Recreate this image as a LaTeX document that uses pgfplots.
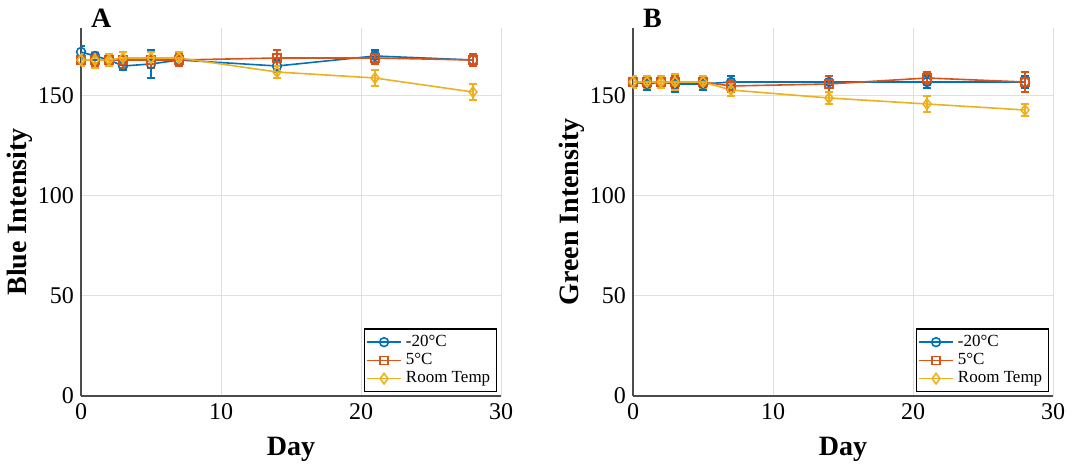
\documentclass[border=0pt]{standalone}
\usepackage{pgfplots}
\pgfplotsset{compat=1.18}
\usepackage{fontspec}
\setmainfont{Liberation Serif}
\definecolor{mb}{HTML}{0072BD}
\definecolor{mr}{HTML}{D95319}
\definecolor{my}{HTML}{EDB120}
\pgfplotsset{
 myax/.style={width=210pt,height=184pt,scale only axis,
  xmin=0,xmax=30,ymin=0,ymax=184,xtick={0,10,20,30},ytick={0,50,100,150},
  axis x line*=bottom, axis y line*=left, axis line style={black!70,line width=0.8pt},
  tick style={draw=none},
  grid=major, major grid style={gray!25,line width=0.5pt},
  ticklabel style={font=\fontsize{12}{12}\selectfont},
  /pgf/number format/assume math mode=true,
  xlabel={\textbf{Day}}, xlabel style={font=\fontsize{14}{14}\selectfont,yshift=-2pt},
  ylabel style={font=\fontsize{14}{14}\selectfont,yshift=-4pt},
  legend pos=south east,
  legend style={font=\fontsize{8.5}{9}\selectfont,draw=black,line width=0.6pt,inner sep=1pt,row sep=-2pt,at={(0.99,0.01)}},
  legend cell align=left,
 },
 eb/.style={error bars/.cd,y dir=both,y explicit,error bar style={line width=0.7pt},error mark options={rotate=90,mark size=2pt,line width=0.7pt}},
}
\begin{document}
\begin{tikzpicture}[x=1pt,y=1pt]
\useasboundingbox (0,0) rectangle (540,235);
\begin{axis}[myax,at={(40.5pt,37pt)},anchor=origin,ylabel={\textbf{Blue Intensity}}]
\addplot+[mb,line width=0.8pt,mark=o,mark size=2.2pt,mark options={solid,fill=none},eb] table[x=x,y=y,y error=e]{
x y e
0 172 3
1 170 2
2 168 2
3 165 2
5 166 7
7 168 3
14 165 3
21 170 3
28 168 3
};
\addlegendentry{-20°C}
\addplot+[mr,line width=0.8pt,mark=square,mark size=2pt,mark options={solid,fill=none},eb] table[x=x,y=y,y error=e]{
x y e
0 168 3
1 168 3
2 168 3
3 168 4
5 168 4
7 168 3
14 169 4
21 169 3
28 168 3
};
\addlegendentry{5°C}
\addplot+[my,line width=0.8pt,mark=diamond,mark size=2.6pt,mark options={solid,fill=none},eb] table[x=x,y=y,y error=e]{
x y e
0 168 3
1 168 4
2 168 3
3 169 3
5 169 3
7 169 3
14 162 3
21 159 4
28 152 4
};
\addlegendentry{Room Temp}
\end{axis}
\node[font=\fontsize{14}{14}\selectfont\bfseries,anchor=base west] at (42,221) {A};
\begin{axis}[myax,at={(316.5pt,37pt)},anchor=origin,ylabel={\textbf{Green Intensity}}]
\addplot+[mb,line width=0.8pt,mark=o,mark size=2.2pt,mark options={solid,fill=none},eb] table[x=x,y=y,y error=e]{
x y e
0 157 3
1 156 3
2 157 3
3 156 4
5 156 3
7 157 3
14 157 3
21 157 3
28 157 3
};
\addlegendentry{-20°C}
\addplot+[mr,line width=0.8pt,mark=square,mark size=2pt,mark options={solid,fill=none},eb] table[x=x,y=y,y error=e]{
x y e
0 157 3
1 157 3
2 157 3
3 157 3
5 157 3
7 155 3
14 156 4
21 159 3
28 157 5
};
\addlegendentry{5°C}
\addplot+[my,line width=0.8pt,mark=diamond,mark size=2.6pt,mark options={solid,fill=none},eb] table[x=x,y=y,y error=e]{
x y e
0 157 3
1 157 3
2 157 3
3 157 4
5 157 3
7 153 3
14 149 3
21 146 4
28 143 3
};
\addlegendentry{Room Temp}
\end{axis}
\node[font=\fontsize{14}{14}\selectfont\bfseries,anchor=base west] at (318,221) {B};
\end{tikzpicture}
\end{document}
